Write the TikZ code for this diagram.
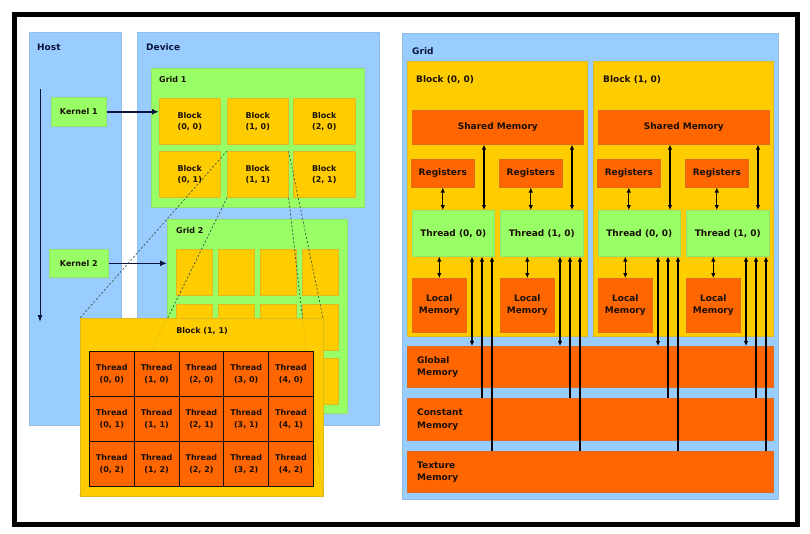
\documentclass[tikz,border=0pt]{standalone}
\usepackage{fontspec}
\setmainfont{DejaVu Sans}
\usetikzlibrary{arrows.meta,calc}
\definecolor{lblue}{RGB}{153,204,255}
\definecolor{lgreen}{RGB}{153,255,102}
\definecolor{gold}{RGB}{255,204,0}
\definecolor{dorange}{RGB}{255,102,0}
\definecolor{ink}{RGB}{25,15,5}
\definecolor{navy}{RGB}{10,20,60}
\newcommand\bx[7]{\node[#1, anchor=north west, inner sep=0pt, minimum width={(#5-#3)*1pt}, minimum height={(#6-#4)*1pt}] (#2) at (#3,#4) {#7};}
\tikzset{
  bluebox/.style={fill=lblue, draw=lblue!80!gray, line width=0.6pt},
  greenbox/.style={fill=lgreen, draw=lgreen!75!gray, line width=0.6pt},
  goldbox/.style={fill=gold, draw=gold!75!gray, line width=0.6pt},
  orbox/.style={fill=dorange, draw=dorange!75!gray, line width=0.6pt},
  cellbox/.style={fill=dorange, draw=ink, line width=0.8pt},
  frm/.style={draw=black, line width=4.5pt},
  smalltxt/.style={font=\bfseries\fontsize{8}{11.5}\selectfont, text=ink, align=center},
  bigtxt/.style={font=\bfseries\fontsize{9}{12.3}\selectfont, text=ink, align=center},
  lbl/.style={font=\bfseries\fontsize{9}{11}\selectfont, text=navy, anchor=base west, inner sep=0pt},
  slbl/.style={font=\bfseries\fontsize{8}{11}\selectfont, text=ink, anchor=base west, inner sep=0pt},
  mlbl/.style={font=\bfseries\fontsize{9}{12.5}\selectfont, text=ink, anchor=west, align=left, inner sep=0pt},
  karrow/.style={draw=navy, line width=1.5pt, -{Latex[length=7pt,width=6pt]}},
  harrow/.style={draw=navy, line width=1pt, -{Latex[length=7pt,width=5pt]}},
  zoomline/.style={draw=navy!70!lgreen, line width=0.7pt, dash pattern=on 2pt off 2pt},
  faintline/.style={zoomline, draw opacity=0.18},
  dbl/.style={draw=black, line width=1.1pt, {Latex[length=5pt,width=4.6pt]}-{Latex[length=5pt,width=4.6pt]}},
  sgl/.style={draw=black, line width=1.1pt, -{Latex[length=5pt,width=4.6pt]}},
}
\begin{document}
\begin{tikzpicture}[x=1pt,y=-1pt]
\useasboundingbox (0,0) rectangle (810,533);
\bx{frm}{frame}{12}{12}{795}{522}{}
% ---------------- left panel
\bx{bluebox}{host}{29}{32}{121}{425}{}
\bx{bluebox}{device}{137}{32}{379}{425}{}
\node[lbl] (hostlbl) at (37,50) {Host};
\node[lbl] (devlbl) at (146,50) {Device};
\bx{greenbox}{grid1}{151}{68}{364}{207}{}
\node[slbl] (g1lbl) at (159,82) {Grid 1};
\bx{goldbox,smalltxt}{b00}{159}{98}{220}{144}{Block\\(0, 0)}
\bx{goldbox,smalltxt}{b10}{227}{98}{288}{144}{Block\\(1, 0)}
\bx{goldbox,smalltxt}{b20}{293}{98}{355}{144}{Block\\(2, 0)}
\bx{goldbox,smalltxt}{b01}{159}{151}{220}{197}{Block\\(0, 1)}
\bx{goldbox,smalltxt}{b11}{227}{151}{288}{197}{Block\\(1, 1)}
\bx{goldbox,smalltxt}{b21}{293}{151}{355}{197}{Block\\(2, 1)}
\bx{greenbox}{grid2}{167}{219}{347}{413}{}
\node[slbl] (g2lbl) at (176,233) {Grid 2};
\foreach \cx/\ci in {176/0,218/1,260/2,302/3}{
  \foreach \cy/\cj in {249/0,304/1,358/2}{
    \bx{goldbox}{gb\ci\cj}{\cx}{\cy}{\cx+36}{\cy+46}{}
  }
}
\bx{greenbox,smalltxt}{k1}{51}{97}{106}{126}{Kernel 1}
\bx{greenbox,smalltxt}{k2}{49}{249}{108}{277}{Kernel 2}
\draw[karrow] (k1.east) -- (k1.east -| b00.west);
\draw[karrow] (k2.east) -- (k2.east -| grid2.west);
\coordinate (hs) at (40,89);
\coordinate (he) at (40,322);
\draw[harrow] (hs) -- (he);
% zoom lines
\coordinate (bbnw) at (80,318);
\coordinate (bbne) at (323,318);
\coordinate (bbsw) at (80,496);
\coordinate (bbse) at (323,496);
\draw[zoomline] (b11.north west) -- (bbnw);
\draw[zoomline] (b11.north east) -- (bbne);
\draw[zoomline] (b11.south west) -- (bbsw);
\draw[zoomline] (b11.south east) -- (bbse);
\bx{goldbox}{bigblock}{80}{318}{323}{496}{}
\draw[faintline] (b11.south west) -- (bbsw);
\draw[faintline] (b11.south east) -- (bbse);
\node[font=\bfseries\fontsize{8}{11}\selectfont, text=ink, anchor=base, inner sep=0pt] (bblbl) at (202,333) {Block (1, 1)};
\foreach \i in {0,...,4}{
  \foreach \j in {0,1,2}{
    \pgfmathsetmacro\cx{89+\i*44.8}
    \pgfmathsetmacro\cy{351+\j*45}
    \bx{cellbox,smalltxt}{c\i\j}{\cx}{\cy}{\cx+44.8}{\cy+45}{Thread\\(\i, \j)}
  }
}
% ---------------- right panel
\bx{bluebox}{grid}{402}{33}{778}{499}{}
\node[lbl] (gridlbl) at (412,54) {Grid};
\bx{goldbox}{blk0}{407}{61}{587}{336}{}
\bx{goldbox}{blk1}{593}{61}{773}{336}{}
\node[lbl,text=ink] (blk0lbl) at (416,82) {Block (0, 0)};
\node[lbl,text=ink] (blk1lbl) at (603,82) {Block (1, 0)};
\bx{orbox,bigtxt}{sh0}{412}{110}{583}{144}{Shared Memory}
\bx{orbox,bigtxt}{sh1}{598}{110}{769}{144}{Shared Memory}
\bx{orbox,bigtxt}{ra}{411}{159}{474}{187}{Registers}
\bx{orbox,bigtxt}{rb}{499}{159}{562}{187}{Registers}
\bx{orbox,bigtxt}{rc}{597}{159}{660}{187}{Registers}
\bx{orbox,bigtxt}{rd}{685}{159}{748}{187}{Registers}
\bx{greenbox,bigtxt}{ta}{412}{210}{494}{256}{Thread (0, 0)}
\bx{greenbox,bigtxt}{tb}{500}{210}{583}{256}{Thread (1, 0)}
\bx{greenbox,bigtxt}{tc}{598}{210}{680}{256}{Thread (0, 0)}
\bx{greenbox,bigtxt}{td}{686}{210}{769}{256}{Thread (1, 0)}
\bx{orbox,bigtxt}{la}{412}{278}{466}{332}{Local\\Memory}
\bx{orbox,bigtxt}{lb}{500}{278}{554}{332}{Local\\Memory}
\bx{orbox,bigtxt}{lc}{598}{278}{652}{332}{Local\\Memory}
\bx{orbox,bigtxt}{ld}{686}{278}{740}{332}{Local\\Memory}
\bx{orbox}{glob}{407}{346}{773}{387}{}
\bx{orbox}{const}{407}{398}{773}{440}{}
\bx{orbox}{tex}{407}{451}{773}{492}{}
\node[mlbl] (globlbl) at (417,367) {Global\\Memory};
\node[mlbl] (constlbl) at (417,419.5) {Constant\\Memory};
\node[mlbl] (texlbl) at (417,472) {Texture\\Memory};
\foreach \t/\s/\r/\l in {ta/sh0/ra/la, tb/sh0/rb/lb, tc/sh1/rc/lc, td/sh1/rd/ld}{
  \draw[dbl] (\r.south) -- (\r.south |- \t.north);
  \draw[dbl] (\l.north) -- (\l.north |- \t.south);
  \draw[dbl] ([xshift=72pt]\t.north west) -- ([xshift=72pt]\t.north west |- \s.south);
  \draw[dbl] ([xshift=60pt]\t.south west) -- ([xshift=60pt]\t.south west |- glob.north);
  \draw[sgl] ([xshift=70pt]\t.south west |- const.north) -- ([xshift=70pt]\t.south west);
  \draw[sgl] ([xshift=80pt]\t.south west |- tex.north) -- ([xshift=80pt]\t.south west);
}
\end{tikzpicture}
\end{document}
